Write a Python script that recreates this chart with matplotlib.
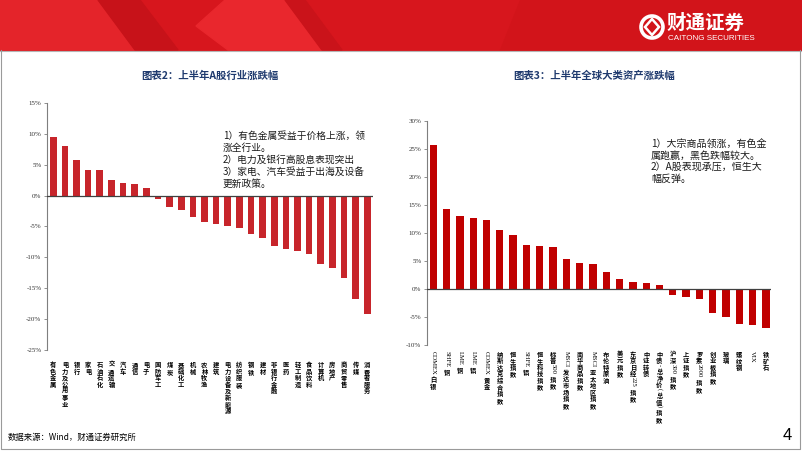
import re

import matplotlib
matplotlib.use("Agg")
import matplotlib.pyplot as plt
from matplotlib.patches import Polygon, Circle

plt.rcParams["font.family"] = ["Noto Sans CJK SC", "DejaVu Sans"]

W, H = 802, 451

# A-share industries, first-half return (%)
A_LABELS = [
    "有色金属", "电力及公用事业", "银行", "家电", "石油石化", "交通运输", "汽车",
    "通信", "电子", "国防军工", "煤炭", "基础化工", "机械", "农林牧渔", "建筑",
    "电力设备及新能源", "纺织服装", "钢铁", "建材", "非银行金融", "医药",
    "轻工制造", "食品饮料", "计算机", "房地产", "商贸零售", "传媒", "消费者服务",
]
A_VALUES = [
    9.5, 8.1, 5.8, 4.2, 4.1, 2.5, 2.0, 1.9, 1.2, -0.6, -1.9, -2.3, -3.5, -4.2,
    -4.6, -4.9, -5.2, -6.2, -6.9, -8.2, -8.7, -9.0, -9.5, -11.1, -11.7, -13.3,
    -16.8, -19.1,
]
A_YTICKS = [-25, -20, -15, -10, -5, 0, 5, 10, 15]

# global asset classes, first-half return (%)
G_LABELS = [
    "COMEX白银", "SHFE铜", "LME铜", "LME铝", "COMEX黄金", "纳斯达克综合指数",
    "恒生指数", "SHFE铝", "恒生科技指数", "标普500指数", "MSCI发达市场指数",
    "南华商品指数", "MSCI亚太地区指数", "布伦特原油", "美元指数",
    "东京日经225指数", "中证转债", "中债-总净价(总值)指数", "沪深300指数",
    "上证指数", "罗素2000指数", "创业板指数", "玻璃", "螺纹钢", "VIX", "铁矿石",
]
G_VALUES = [
    25.8, 14.2, 13.0, 12.7, 12.4, 10.6, 9.6, 7.9, 7.6, 7.5, 5.4, 4.6, 4.4, 3.1,
    1.8, 1.25, 1.1, 0.8, -1.1, -1.5, -1.8, -4.3, -5.0, -6.2, -6.4, -7.0,
]
G_YTICKS = [-10, -5, 0, 5, 10, 15, 20, 25, 30]

TITLE_COLOR = "#1F3A6E"
A_COLOR = "#C7252B"
G_COLOR = "#C00000"


def px_box(x0, y0, x1, y1):
    return [x0 / W, 1 - y1 / H, (x1 - x0) / W, (y1 - y0) / H]


def draw_banner(fig):
    ax = fig.add_axes([0, 0, 1, 1], zorder=-1)
    ax.set_xlim(0, W)
    ax.set_ylim(H, 0)
    ax.axis("off")
    ax.add_patch(Polygon([(0, 0), (W, 0), (W, 50), (0, 50)], color="#D7161D"))
    ax.add_patch(Polygon([(0, 0), (98, 0), (135, 50), (0, 50)], color="#E4242A"))
    ax.add_patch(Polygon([(98, 0), (140, 0), (178, 50), (135, 50)], color="#C71219"))
    ax.add_patch(Polygon([(225, 0), (285, 0), (322, 50), (228, 50), (196, 26)], color="#E9272D"))
    ax.add_patch(Polygon([(285, 0), (305, 0), (342, 50), (322, 50)], color="#CA131A"))
    ax.add_patch(Polygon([(520, 0), (W, 0), (W, 50), (500, 50)], color="#D2141A"))
    ax.plot([0, W], [50.5, 50.5], color="#B5B5B5", lw=0.8)
    # slide frame
    ax.plot([1, 1, W - 2, W - 2], [50, H - 2, H - 2, 50], color="#9A9A9A", lw=0.8)

    # logo
    ax.add_patch(Circle((652, 27), 11, fill=False, ec="white", lw=2.6))
    ax.add_patch(Polygon([(652, 19), (659, 27), (652, 35), (645, 27)],
                         fill=False, ec="white", lw=1.8))
    ax.text(667, 23, "财通证券", color="white", fontsize=14, fontweight="bold",
            ha="left", va="center")
    ax.text(668, 38, "CAITONG SECURITIES", color="white", fontsize=5.8,
            family="Liberation Sans", ha="left", va="center")

    ax.text(8, 437, "数据来源：Wind，财通证券研究所", fontsize=6, ha="left", va="center")
    ax.text(787, 436, "4", fontsize=12, ha="center", va="center",
            family="Liberation Sans")


def stacked_labels(fig, ax, labels, start_pt, size, step):
    renderer = fig.canvas.get_renderer()
    for i, label in enumerate(labels):
        y = -start_pt
        for seg in re.findall(r"[\x00-\x7f]+|[^\x00-\x7f]", label):
            if seg.isascii():
                t = ax.annotate(seg, (i, 0), xycoords=("data", "axes fraction"),
                                xytext=(0, y), textcoords="offset points",
                                rotation=-90, ha="center", va="top",
                                fontsize=size + 0.3, family="Liberation Serif",
                                annotation_clip=False)
                h = t.get_window_extent(renderer).height * 72 / fig.dpi
                y -= h + 1.5
            else:
                ax.annotate(seg, (i, 0), xycoords=("data", "axes fraction"),
                            xytext=(0, y), textcoords="offset points",
                            ha="center", va="top", fontsize=size,
                            fontweight="bold", annotation_clip=False)
                y -= step


def style_axis(ax, yticks, xlim):
    ax.set_xlim(*xlim)
    ax.set_ylim(yticks[0], yticks[-1])
    ax.set_yticks(yticks, [f"{v}%" for v in yticks])
    ax.set_xticks([])
    for side in ("top", "right", "bottom"):
        ax.spines[side].set_visible(False)
    ax.spines["left"].set_color("#7F7F7F")
    ax.spines["left"].set_linewidth(0.8)
    ax.tick_params(axis="y", length=2, width=0.6, color="#7F7F7F",
                   labelsize=5, pad=2, labelcolor="#333333")
    for lbl in ax.get_yticklabels():
        lbl.set_family("Liberation Serif")
    ax.axhline(0, color="#404040", lw=0.9, zorder=3)
    ax.patch.set_alpha(0)


fig = plt.figure(figsize=(W / 100, H / 100), dpi=100)
draw_banner(fig)

# left panel
ax1 = fig.add_axes(px_box(47, 103, 373, 350))
ax1.bar(range(len(A_VALUES)), A_VALUES, width=0.57, color=A_COLOR, zorder=2)
style_axis(ax1, A_YTICKS, (-0.54, len(A_VALUES) - 0.51))
stacked_labels(fig, ax1, A_LABELS, 8, 4.5, 4.75)
fig.text(210 / W, 1 - 76 / H, "图表2：上半年A股行业涨跌幅", color=TITLE_COLOR,
         fontsize=7.5, fontweight="bold", ha="center", va="center")
fig.text(223 / W, 1 - 131 / H,
         "1）有色金属受益于价格上涨，领\n涨全行业。\n2）电力及银行高股息表现突出\n"
         "3）家电、汽车受益于出海及设备\n更新政策。",
         fontsize=7, ha="left", va="top", linespacing=1.25, color="#1A1A1A")

# right panel
ax2 = fig.add_axes(px_box(427, 121, 771, 345))
ax2.bar(range(len(G_VALUES)), G_VALUES, width=0.55, color=G_COLOR, zorder=2)
style_axis(ax2, G_YTICKS, (-0.47, len(G_VALUES) - 0.62))
stacked_labels(fig, ax2, G_LABELS, 4, 4.5, 4.75)
fig.text(594 / W, 1 - 76 / H, "图表3：上半年全球大类资产涨跌幅", color=TITLE_COLOR,
         fontsize=7.5, fontweight="bold", ha="center", va="center")
fig.text(651 / W, 1 - 139 / H,
         "1）大宗商品领涨，有色金\n属跑赢，黑色跌幅较大。\n2）A股表现承压，恒生大\n幅反弹。",
         fontsize=7.2, ha="left", va="top", linespacing=1.2, color="#1A1A1A")

fig.savefig("out.png", dpi=100)
